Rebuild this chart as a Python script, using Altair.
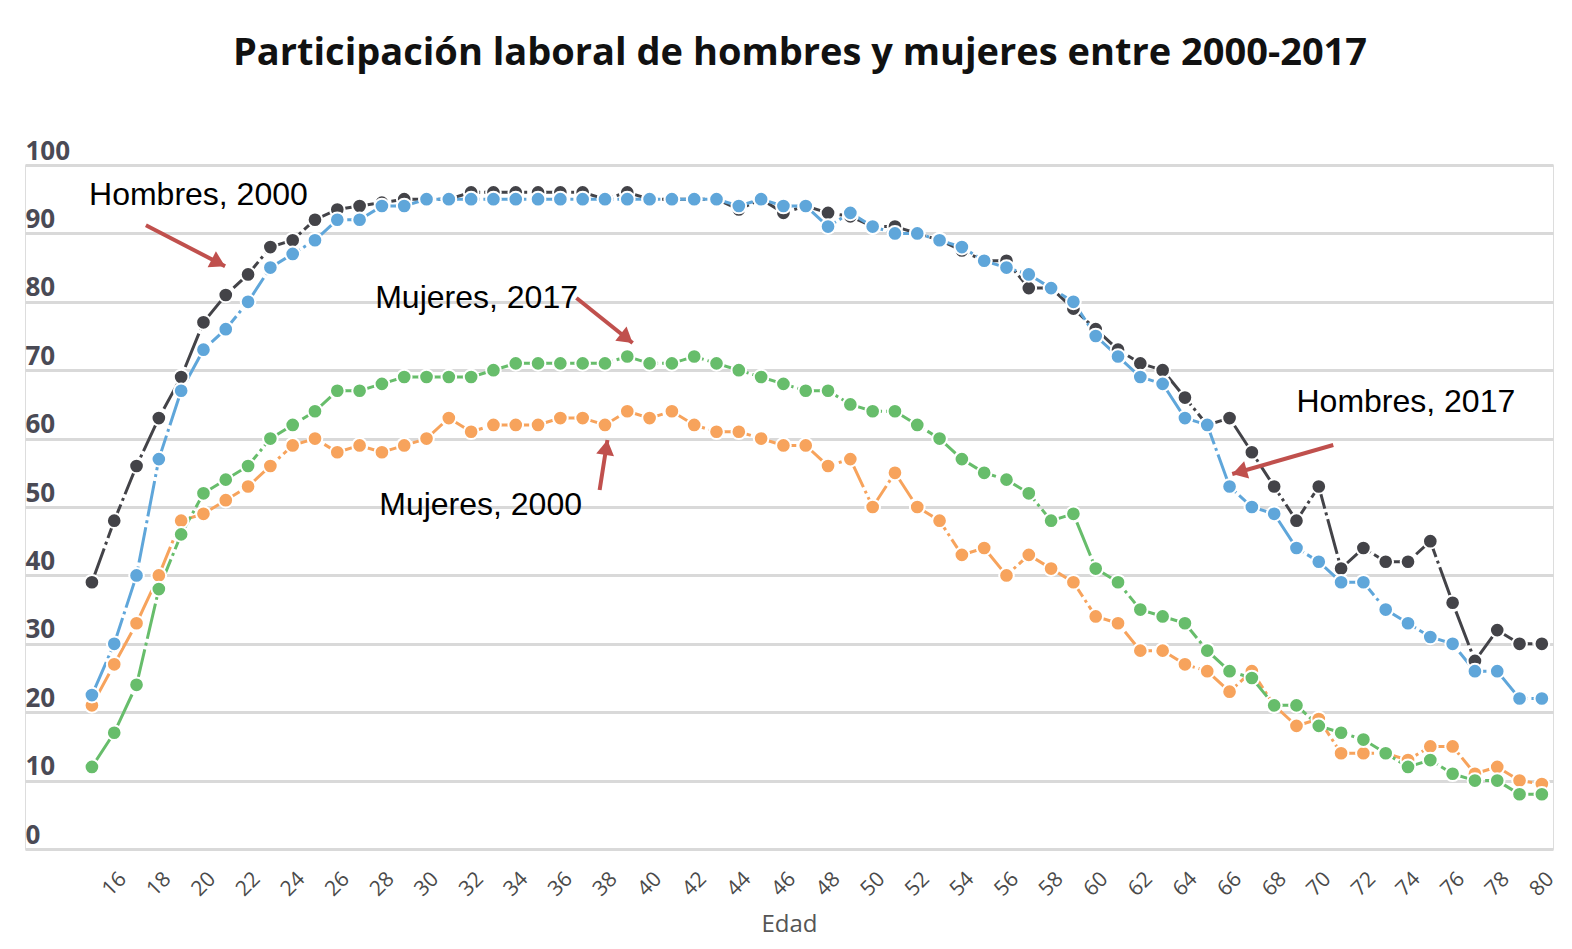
import math
import altair as alt
import pandas as pd

# ---------------- data ----------------
ages = list(range(15, 81))
hombres_2000 = [39, 48, 56, 63, 69, 77, 81, 84, 88, 89, 92, 93.5, 94, 94.5, 95, 95, 95, 96, 96, 96,
                96, 96, 96, 95, 96, 95, 95, 95, 95, 93.5, 95, 93, 94, 93, 92.5, 91, 91, 90, 89, 87.5,
                86, 86, 82, 82, 79, 76, 73, 71, 70, 66, 62, 63, 58, 53, 48, 53, 41, 44, 42, 42,
                45, 36, 27.5, 32, 30, 30]
hombres_2017 = [22.5, 30, 40, 57, 67, 73, 76, 80, 85, 87, 89, 92, 92, 94, 94, 95, 95, 95, 95, 95,
                95, 95, 95, 95, 95, 95, 95, 95, 95, 94, 95, 94, 94, 91, 93, 91, 90, 90, 89, 88,
                86, 85, 84, 82, 80, 75, 72, 69, 68, 63, 62, 53, 50, 49, 44, 42, 39, 39, 35, 33,
                31, 30, 26, 26, 22, 22]
mujeres_2000 = [21, 27, 33, 40, 48, 49, 51, 53, 56, 59, 60, 58, 59, 58, 59, 60, 63, 61, 62, 62,
                62, 63, 63, 62, 64, 63, 64, 62, 61, 61, 60, 59, 59, 56, 57, 50, 55, 50, 48, 43,
                44, 40, 43, 41, 39, 34, 33, 29, 29, 27, 26, 23, 26, 21, 18, 19, 14, 14, 14, 13,
                15, 15, 11, 12, 10, 9.5]
mujeres_2017 = [12, 17, 24, 38, 46, 52, 54, 56, 60, 62, 64, 67, 67, 68, 69, 69, 69, 69, 70, 71,
                71, 71, 71, 71, 72, 71, 71, 72, 71, 70, 69, 68, 67, 67, 65, 64, 64, 62, 60, 57,
                55, 54, 52, 48, 49, 41, 39, 35, 34, 33, 29, 26, 25, 21, 21, 18, 17, 16, 14, 12,
                13, 11, 10, 10, 8, 8]

series_names = ["Hombres, 2000", "Mujeres, 2000", "Hombres, 2017", "Mujeres, 2017"]
series_colors = ["#434348", "#f7a35c", "#5fa6da", "#67bd6b"]
x_ticks = list(range(16, 81, 2))
y_ticks = list(range(0, 101, 10))

# annotations (label text and anchor in data coordinates)
ann_text = ["Hombres, 2000", "Mujeres, 2017", "Mujeres, 2000", "Hombres, 2017"]
ann_x = [14.87, 27.70, 27.88, 69.0]
ann_y = [95.6, 80.6, 50.3, 65.4]
# arrows: start -> end, in data coordinates
arrow_x0 = [17.42, 36.72, 37.76, 70.65]
arrow_y0 = [91.2, 80.56, 52.49, 59.06]
arrow_x1 = [20.97, 39.24, 38.11, 66.12]
arrow_y1 = [85.2, 73.98, 59.8, 54.82]

# ---------------- layout ----------------
plot_w, plot_h = 1528, 684
x_domain = [12, 80.5]
y_domain = [0, 100]

rows = []
for name, vals in zip(series_names, [hombres_2000, mujeres_2000, hombres_2017, mujeres_2017]):
    for a, v in zip(ages, vals):
        rows.append({"serie": name, "edad": a, "valor": v})
df = pd.DataFrame(rows)

px_x = plot_w / (x_domain[1] - x_domain[0])
px_y = plot_h / (y_domain[1] - y_domain[0])
arrows = pd.DataFrame({
    "x0": arrow_x0, "y0": arrow_y0, "x1": arrow_x1, "y1": arrow_y1,
})
arrows["ang"] = [
    math.degrees(math.atan2(-(b1 - b0) * px_y, (a1 - a0) * px_x)) % 360
    for a0, b0, a1, b1 in zip(arrow_x0, arrow_y0, arrow_x1, arrow_y1)
]
ann = pd.DataFrame({"t": ann_text, "x": ann_x, "y": ann_y})

xscale = alt.Scale(domain=x_domain, nice=False, zero=False)
yscale = alt.Scale(domain=y_domain, nice=False, zero=False)
color = alt.Color("serie:N", scale=alt.Scale(domain=series_names, range=series_colors), legend=None)

x_axis = alt.Axis(values=x_ticks, title="Edad", grid=False, domain=False, ticks=False,
                  labelAngle=315, labelAlign="center", labelBaseline="middle", labelPadding=35,
                  labelFontSize=21, labelFont="Open Sans", labelColor="#4a4a4a",
                  labelFlush=False, labelOverlap=False,
                  titleFont="Open Sans", titleFontSize=24, titleFontWeight="normal",
                  titleColor="#555555", titlePadding=13)
y_axis = alt.Axis(values=y_ticks, title=None, domain=False, ticks=False, grid=True,
                  gridColor="#d9d9d9", gridWidth=3,
                  labelAlign="left", labelBaseline="bottom", labelPadding=0, labelOffset=-1,
                  labelFontSize=26, labelFontWeight="bold", labelFont="Open Sans",
                  labelColor="#4a4a55")

base = alt.Chart(df)
lines = base.mark_line(strokeWidth=3, strokeDash=[36, 4, 3, 4]).encode(
    x=alt.X("edad:Q", scale=xscale, axis=x_axis),
    y=alt.Y("valor:Q", scale=yscale, axis=y_axis),
    color=color,
    detail="serie:N",
)
points = base.mark_circle(size=215, opacity=1, stroke="white", strokeWidth=2).encode(
    x=alt.X("edad:Q", scale=xscale),
    y=alt.Y("valor:Q", scale=yscale),
    color=color,
)

labels = alt.Chart(ann).mark_text(align="left", baseline="middle", font="Liberation Sans",
                                  fontSize=32, color="#000000").encode(
    x=alt.X("x:Q", scale=xscale), y=alt.Y("y:Q", scale=yscale), text="t:N")

arrow_lines = alt.Chart(arrows).mark_rule(color="#c0504d", strokeWidth=4).encode(
    x=alt.X("x0:Q", scale=xscale), y=alt.Y("y0:Q", scale=yscale),
    x2="x1:Q", y2="y1:Q")
arrow_heads = alt.Chart(arrows).mark_point(
    shape="M0,0L-1,-0.6L-1,0.6Z", filled=True, opacity=1, color="#c0504d", size=900,
).encode(
    x=alt.X("x1:Q", scale=xscale), y=alt.Y("y1:Q", scale=yscale),
    angle=alt.Angle("ang:Q", scale=None))

chart = alt.layer(lines, points, arrow_lines, arrow_heads, labels).properties(
    width=plot_w, height=plot_h,
    autosize=alt.AutoSizeParams(type="none"),
    padding={"left": 17, "top": 157, "right": 11, "bottom": 92},
    title=alt.TitleParams(
        "Participación laboral de hombres y mujeres entre 2000-2017",
        font="Open Sans", fontSize=38, fontWeight="bold", color="#111111",
        anchor="middle", offset=65, dx=11),
).configure_view(strokeWidth=0).configure(background="white")

chart.save("out.html", embed_options={"renderer": "svg", "actions": False})
